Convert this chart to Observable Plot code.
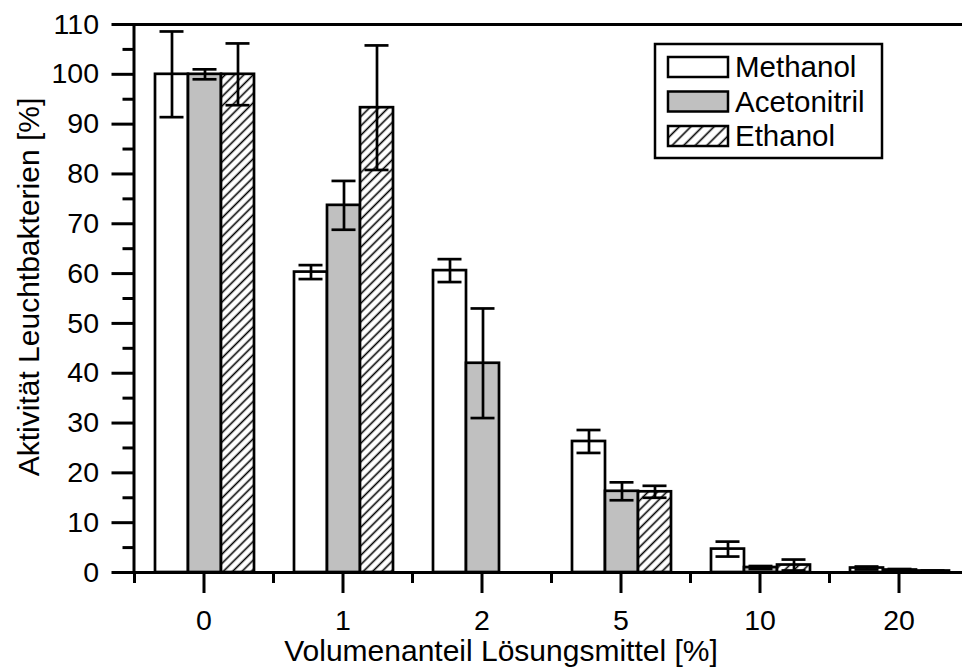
<!DOCTYPE html>
<html>
<head>
<meta charset="utf-8">
<script src="https://cdn.jsdelivr.net/npm/d3@7"></script>
<script src="https://cdn.jsdelivr.net/npm/@observablehq/plot@0.6"></script>
<style>
  html, body { margin: 0; padding: 0; overflow: hidden; background: #fff; }
  #chart { width: 962px; height: 668px; overflow: hidden; }
</style>
</head>
<body>
<div id="chart"></div>
<script>
// Volume fraction of solvent [%] (categorical)
const concentrations = ["0", "1", "2", "5", "10", "20"];
const solvents = ["Methanol", "Acetonitril", "Ethanol"];

// Mean luminescent-bacteria activity [%] and standard deviation per solvent
const methanol       = [100, 60.3, 60.6, 26.3, 4.7, 0.9];
const methanolErr    = [8.6, 1.4, 2.3, 2.3, 1.5, 0.3];
const acetonitril    = [100, 73.7, 42.0, 16.3, 1.0, 0.5];
const acetonitrilErr = [1.0, 4.9, 11.0, 1.8, 0.3, 0.2];
const ethanol        = [100, 93.3, null, 16.2, 1.5, 0.3];
const ethanolErr     = [6.2, 12.5, null, 1.2, 1.1, 0.1];

const yMajorTicks = [0, 10, 20, 30, 40, 50, 60, 70, 80, 90, 100, 110];
const yMinorTicks = [5, 15, 25, 35, 45, 55, 65, 75, 85, 95, 105];

const yTitle = "Aktivität Leuchtbakterien [%]";
const xTitle = "Volumenanteil Lösungsmittel [%]";

const series = {
  Methanol:    {values: methanol,    errors: methanolErr,    fill: "white",   dx: -32},
  Acetonitril: {values: acetonitril, errors: acetonitrilErr, fill: "#c0c0c0", dx: 1},
  Ethanol:     {values: ethanol,     errors: ethanolErr,     fill: "url(#hatch-bar)", dx: 34}
};

const rows = solvents.flatMap(s =>
  concentrations.map((c, i) => ({conc: c, solvent: s, value: series[s].values[i], err: series[s].errors[i]}))
).filter(d => d.value != null);

const font = "'Liberation Sans', Arial, Helvetica, sans-serif";
const lw = 2.7;
const barInset = 53;   // leaves a 33px bar in a 139px band
const capInset = 57.5; // 24px wide error caps

const seriesMarks = solvents.flatMap(s => {
  const data = rows.filter(d => d.solvent === s);
  const dx = series[s].dx;
  return [
    Plot.barY(data, {x: "conc", y: "value", dx, insetLeft: barInset, insetRight: barInset,
      fill: series[s].fill, stroke: "black", strokeWidth: lw}),
    Plot.ruleX(data, {x: "conc", y1: d => d.value - d.err, y2: d => d.value + d.err, dx,
      stroke: "black", strokeWidth: lw}),
    Plot.tickY(data, {x: "conc", y: d => d.value + d.err, dx, insetLeft: capInset, insetRight: capInset,
      stroke: "black", strokeWidth: lw}),
    Plot.tickY(data, {x: "conc", y: d => d.value - d.err, dx, insetLeft: capInset, insetRight: capInset,
      stroke: "black", strokeWidth: lw})
  ];
});

const chart = Plot.plot({
  width: 968,
  height: 668,
  marginLeft: 133.5,
  marginRight: 0.5,
  marginTop: 24,
  marginBottom: 96,
  style: {fontFamily: font, fontSize: "28px", color: "black", background: "white", maxWidth: "none"},
  x: {domain: concentrations, padding: 0, label: null},
  y: {domain: [0, 110], label: null},
  marks: [
    ...seriesMarks,
    Plot.frame({stroke: "black", strokeWidth: 3}),
    Plot.axisY({ticks: yMajorTicks, tickSize: 22, tickPadding: 13, strokeWidth: 3, fontSize: 28.5, label: null}),
    Plot.axisY({ticks: yMinorTicks, tickSize: 11, tickFormat: () => "", strokeWidth: 3, label: null}),
    Plot.axisX({tickSize: 21, tickPadding: 16, strokeWidth: 3, fontSize: 28.5, label: null}),
    Plot.axisX({tickSize: 11, tickFormat: () => "", dx: -69.5, strokeWidth: 3, label: null}),
    Plot.text([yTitle], {text: d => d, frameAnchor: "left", rotate: -90, dx: -105, dy: -11.5,
      lineAnchor: "middle", textAnchor: "middle", fontSize: 30, fill: "black"}),
    Plot.text([xTitle], {text: d => d, frameAnchor: "bottom", dx: -50, dy: 79,
      lineAnchor: "middle", textAnchor: "middle", fontSize: 30, fill: "black"})
  ]
});

// Hatch patterns for the Ethanol bars and its legend swatch
const svg = d3.select(chart);
const defs = svg.insert("defs", ":first-child");
function hatch(id, size, width) {
  const p = defs.append("pattern")
    .attr("id", id)
    .attr("patternUnits", "userSpaceOnUse")
    .attr("width", size).attr("height", size)
    .attr("patternTransform", "rotate(45)");
  p.append("rect").attr("width", size).attr("height", size).attr("fill", "white");
  p.append("line").attr("x1", size / 2).attr("y1", 0).attr("x2", size / 2).attr("y2", size)
    .attr("stroke", "black").attr("stroke-width", width);
}
hatch("hatch-bar", 6.6, 1.6);
hatch("hatch-legend", 8.2, 1.6);

// Legend box
const legend = svg.append("g")
  .attr("font-family", font)
  .attr("font-size", 29.5)
  .attr("text-anchor", "start");
legend.append("rect").attr("x", 655).attr("y", 44).attr("width", 227).attr("height", 114)
  .attr("fill", "white").attr("stroke", "black").attr("stroke-width", 2.5);
const legendFill = {Methanol: "white", Acetonitril: "#c0c0c0", Ethanol: "url(#hatch-legend)"};
solvents.forEach((s, i) => {
  const cy = 67 + i * 34.5;
  legend.append("rect").attr("x", 668).attr("y", cy - 10).attr("width", 60).attr("height", 20)
    .attr("fill", legendFill[s]).attr("stroke", "black").attr("stroke-width", 2.5);
  legend.append("text").attr("x", 735).attr("y", cy + 10).attr("fill", "black").text(s);
});

document.getElementById("chart").append(chart);
</script>
</body>
</html>
